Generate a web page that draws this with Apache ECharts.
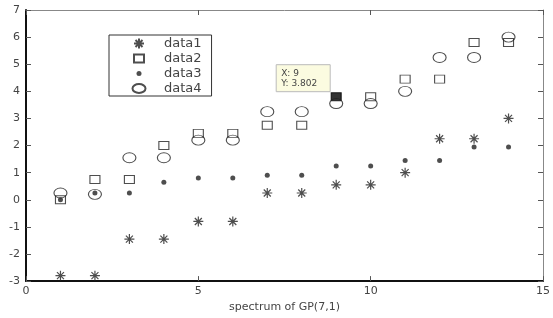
<!DOCTYPE html>
<html>
<head>
<meta charset="utf-8">
<script src="https://cdn.jsdelivr.net/npm/echarts@6/dist/echarts.min.js"></script>
<style>
  html, body { margin: 0; padding: 0; background: #fff; }
  #chart { width: 553px; height: 318px; }
</style>
</head>
<body>
<div id="chart"></div>
<script>
// x positions and the four series
const xs = [1, 2, 3, 4, 5, 6, 7, 8, 9, 10, 11, 12, 13, 14];
const data1 = [-2.8, -2.8, -1.45, -1.45, -0.8, -0.8, 0.25, 0.25, 0.55, 0.55, 1.0, 2.25, 2.25, 3.0];
const data2 = [0, 0.75, 0.75, 2.0, 2.45, 2.45, 2.75, 2.75, 3.802, 3.8, 4.45, 4.45, 5.8, 5.8];
const data3 = [0, 0.25, 0.25, 0.65, 0.8, 0.8, 0.9, 0.9, 1.25, 1.25, 1.45, 1.45, 1.95, 1.95];
const data4 = [0.25, 0.2, 1.55, 1.55, 2.2, 2.2, 3.25, 3.25, 3.55, 3.55, 4.0, 5.25, 5.25, 6.0];
const seriesNames = ['data1', 'data2', 'data3', 'data4'];
const xTicks = { min: 0, max: 15, interval: 5 };
const yTicks = { min: -3, max: 7, interval: 1 };
const tipIndex = 8; // datatip on data2 at x = 9

const font = 'DejaVu Sans';
const ink = '#222';
const star = 'path://M0,5L10,5M5,0L5,10M1.5,1.5L8.5,8.5M8.5,1.5L1.5,8.5';

// legend icons sit in a 40x10 box (the corner moves fix the box), shape centred at x=20
const box = 'M0,0M40,10';
const legendIcons = [
    'path://' + box + 'M15,5L25,5M20,0L20,10M16.5,1.5L23.5,8.5M23.5,1.5L16.5,8.5',
    'path://' + box + 'M15,1L25,1L25,9L15,9Z',
    'path://' + box + 'M17.5,5A2.5,2.5,0,1,1,22.5,5A2.5,2.5,0,1,1,17.5,5Z',
    'path://' + box + 'M13.5,5A6.5,4.5,0,1,1,26.5,5A6.5,4.5,0,1,1,13.5,5Z',
];

function pairs(ys) {
    return xs.map((x, i) => [x, ys[i]]);
}

const chart = echarts.init(document.getElementById('chart'));

const baseAxis = {
    splitLine: { show: false },
    axisTick: { inside: true, length: 5, lineStyle: { color: '#555' } },
};

const option = {
    animation: false,
    grid: { left: 26, right: 5, top: 10, bottom: 34 },
    legend: {
        orient: 'vertical',
        left: 109,
        top: 35,
        itemWidth: 40,
        itemHeight: 10,
        itemGap: 2,
        padding: [2, 10, 1, 9],
        borderColor: '#333',
        borderWidth: 1,
        textStyle: { fontFamily: font, fontSize: 13, lineHeight: 10, color: '#444' },
        data: seriesNames.map((n, i) => ({ name: n, icon: legendIcons[i] })),
    },
    xAxis: [
        Object.assign({}, baseAxis, {
            type: 'value', position: 'bottom', ...xTicks,
            name: 'spectrum of GP(7,1)',
            nameLocation: 'middle',
            nameGap: 18,
            nameTextStyle: { fontFamily: font, fontSize: 11, color: '#444' },
            axisLine: { onZero: false, lineStyle: { color: '#111', width: 2 } },
            axisLabel: { fontFamily: font, fontSize: 11, color: '#444', margin: 5 },
        }),
        Object.assign({}, baseAxis, {
            type: 'value', position: 'top', ...xTicks,
            axisLine: { onZero: false, lineStyle: { color: '#888', width: 1 } },
            axisLabel: { show: false },
        }),
    ],
    yAxis: [
        Object.assign({}, baseAxis, {
            type: 'value', position: 'left', ...yTicks,
            axisLine: { onZero: false, lineStyle: { color: '#111', width: 2 } },
            axisLabel: { fontFamily: font, fontSize: 11, color: '#444', margin: 6 },
        }),
        Object.assign({}, baseAxis, {
            type: 'value', position: 'right', ...yTicks,
            axisLine: { onZero: false, lineStyle: { color: '#888', width: 1 } },
            axisLabel: { show: false },
        }),
    ],
    series: [
        {
            name: 'data1', type: 'scatter', symbol: star, symbolSize: 10,
            itemStyle: { color: 'transparent', borderColor: ink, borderWidth: 1.2 },
            data: pairs(data1),
        },
        {
            name: 'data2', type: 'scatter', symbol: 'rect', symbolSize: [10, 8],
            itemStyle: { color: 'transparent', borderColor: ink, borderWidth: 1 },
            data: pairs(data2).map((p, i) => i === tipIndex
                ? { value: p, itemStyle: { color: '#000', borderColor: '#000' } }
                : p),
        },
        {
            name: 'data3', type: 'scatter', symbol: 'circle', symbolSize: 5,
            itemStyle: { color: ink },
            data: pairs(data3),
        },
        {
            name: 'data4', type: 'scatter', symbol: 'circle', symbolSize: [13, 10],
            itemStyle: { color: 'transparent', borderColor: ink, borderWidth: 1 },
            data: pairs(data4),
        },
    ],
};

chart.setOption(option);

// MATLAB-style datatip anchored to the selected point
const tipPt = chart.convertToPixel({ xAxisIndex: 0, yAxisIndex: 0 }, [xs[tipIndex], data2[tipIndex]]);
chart.setOption({
    graphic: [{
        type: 'group',
        x: tipPt[0] - 60,
        y: tipPt[1] - 32,
        children: [
            {
                type: 'rect',
                shape: { x: 0, y: 0, width: 54, height: 27 },
                style: { fill: '#fbfbe0', stroke: '#bbb', lineWidth: 1 },
            },
            {
                type: 'text',
                x: 5, y: 4,
                style: {
                    text: 'X: ' + xs[tipIndex] + '\nY: ' + data2[tipIndex],
                    fontFamily: font, fontSize: 9, lineHeight: 10, fill: '#444',
                },
            },
        ],
    }],
});
</script>
</body>
</html>
